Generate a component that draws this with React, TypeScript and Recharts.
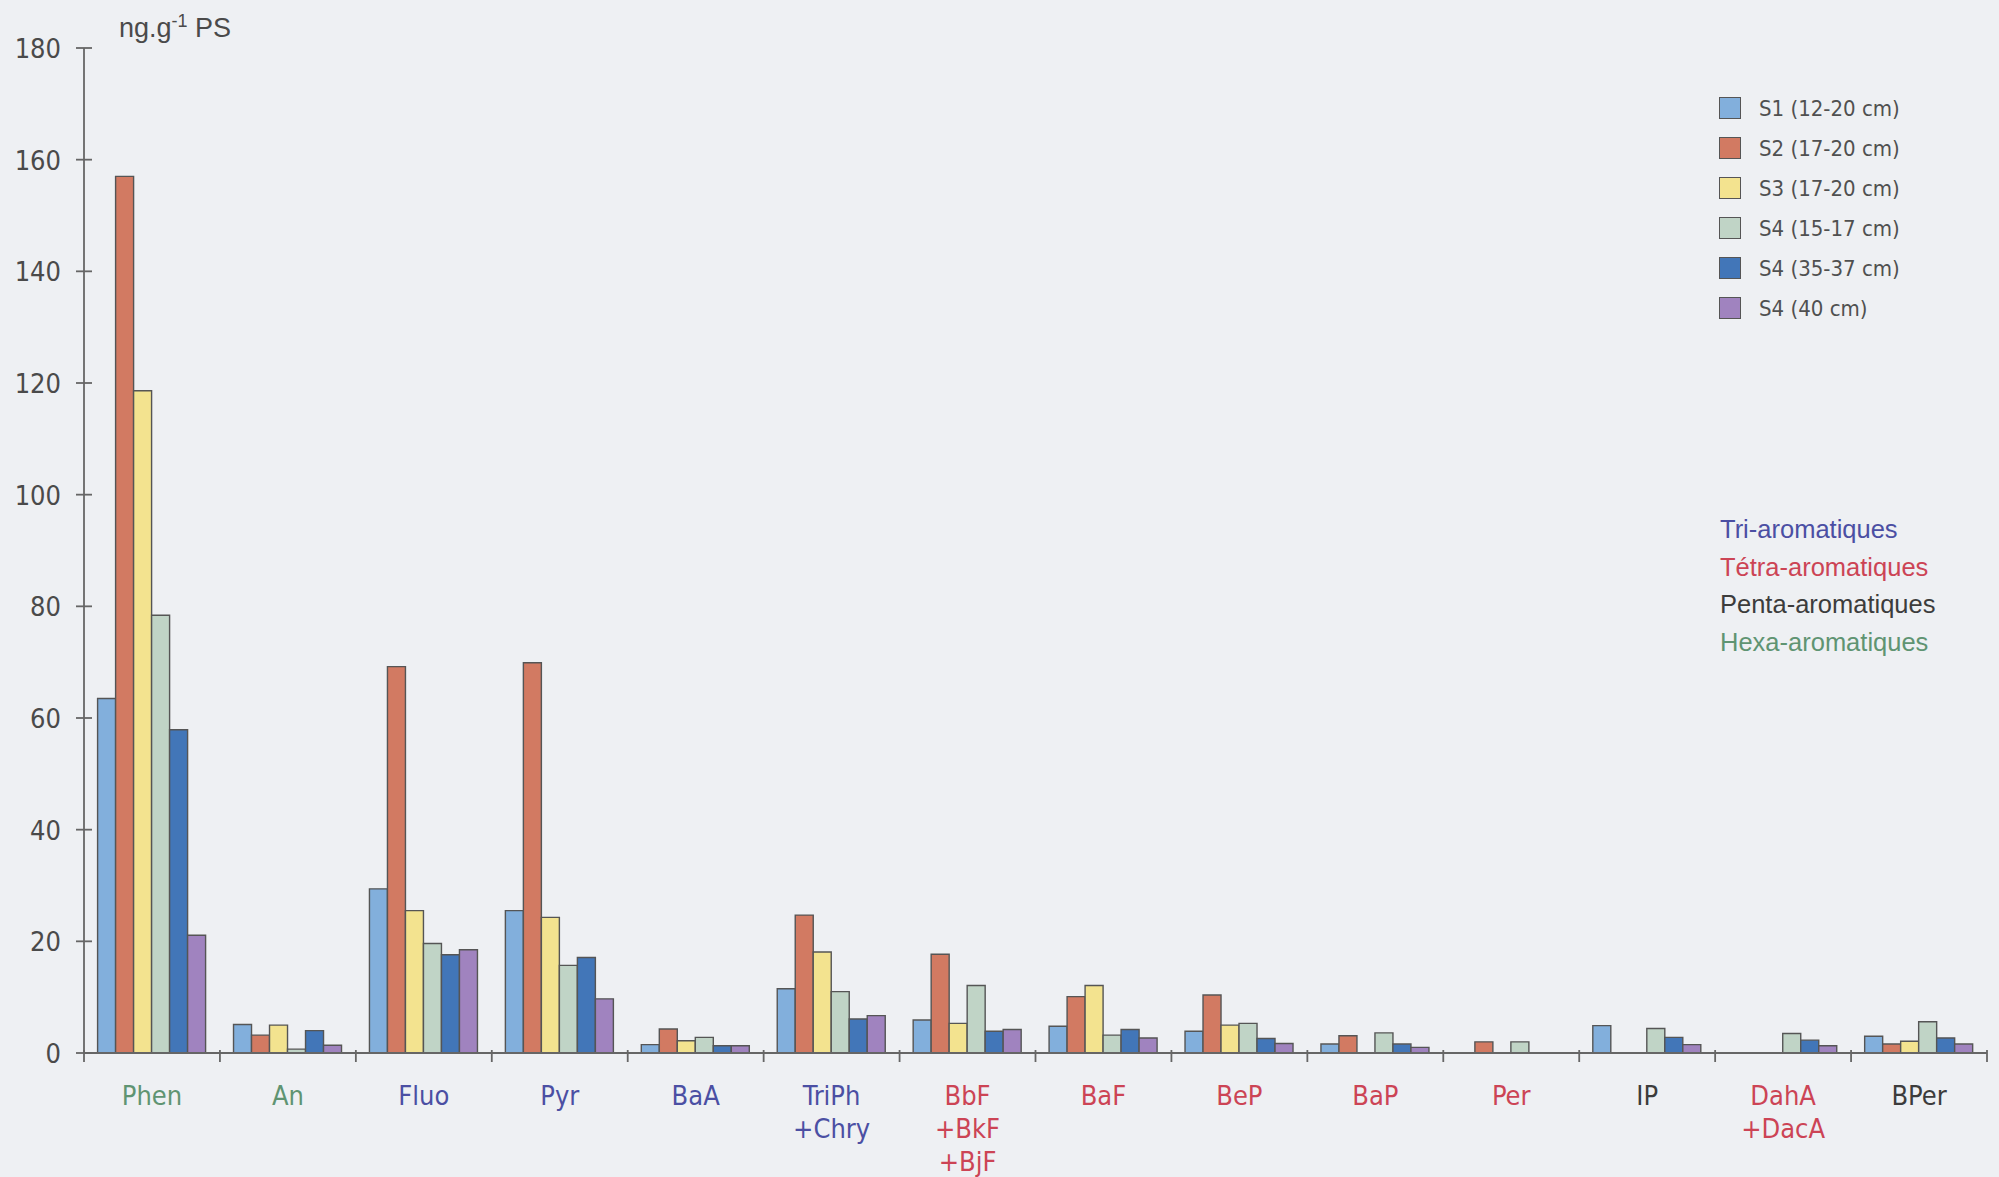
import { BarChart, Bar, XAxis, YAxis } from "recharts";

const categories = [
  "Phen", "An", "Fluo", "Pyr", "BaA", "TriPh\n+Chry", "BbF\n+BkF\n+BjF",
  "BaF", "BeP", "BaP", "Per", "IP", "DahA\n+DacA", "BPer",
];
// colour group used for each category label, as printed
const labelGroups = [
  "hexa", "hexa", "tri", "tri", "tri", "tri", "tetra",
  "tetra", "tetra", "tetra", "tetra", "penta", "tetra", "penta",
];

const s1 = [63.5, 5.1, 29.4, 25.5, 1.5, 11.5, 5.9, 4.8, 3.9, 1.6, null, 4.9, null, 3.0];
const s2 = [157, 3.2, 69.2, 69.9, 4.3, 24.7, 17.7, 10.1, 10.4, 3.1, 2.0, null, null, 1.6];
const s3 = [118.6, 5.0, 25.5, 24.3, 2.2, 18.1, 5.3, 12.1, 5.0, null, null, null, null, 2.1];
const s4a = [78.4, 0.7, 19.6, 15.7, 2.8, 11.0, 12.1, 3.2, 5.3, 3.6, 2.0, 4.4, 3.5, 5.6];
const s4b = [57.9, 4.0, 17.6, 17.1, 1.3, 6.1, 3.9, 4.2, 2.6, 1.6, null, 2.8, 2.3, 2.7];
const s4c = [21.1, 1.4, 18.5, 9.7, 1.3, 6.7, 4.2, 2.7, 1.7, 1.0, null, 1.5, 1.3, 1.6];

const seriesNames = [
  "S1 (12-20 cm)", "S2 (17-20 cm)", "S3 (17-20 cm)",
  "S4 (15-17 cm)", "S4 (35-37 cm)", "S4 (40 cm)",
];
const seriesKeys = ["s1", "s2", "s3", "s4a", "s4b", "s4c"];
const seriesColors = ["#82afdc", "#d27a62", "#f3e38f", "#c0d4c6", "#4276b8", "#a083bf"];

const yTicks = [0, 20, 40, 60, 80, 100, 120, 140, 160, 180];

const groupNames = ["Tri-aromatiques", "Tétra-aromatiques", "Penta-aromatiques", "Hexa-aromatiques"];
const groupKeys = ["tri", "tetra", "penta", "hexa"];
const groupColors: Record<string, string> = {
  tri: "#4b4fa3",
  tetra: "#cc4455",
  penta: "#3c3c3c",
  hexa: "#5f9472",
};

const data = categories.map((name, i) => ({
  name,
  s1: s1[i],
  s2: s2[i],
  s3: s3[i],
  s4a: s4a[i],
  s4b: s4b[i],
  s4c: s4c[i],
}));

const narrow = "'Liberation Sans Narrow', 'DejaVu Sans Condensed', 'Arial Narrow', sans-serif";
const regular = "'Liberation Sans', Arial, sans-serif";
const axisColor = "#666";

function YTick(props: any) {
  const { x, y, payload } = props;
  const ax = x + 23;
  return (
    <g>
      <line x1={ax - 8} x2={ax + 8} y1={y} y2={y} stroke={axisColor} strokeWidth={1.8} />
      <text x={x} y={y + 10} textAnchor="end" fontSize={27} fontFamily={narrow} fill="#4a4a4a">
        {payload.value}
      </text>
    </g>
  );
}

function XTick(props: any) {
  const { x, y, payload, index } = props;
  const half = payload.offset ?? 68;
  const lines = String(payload.value).split("\n");
  const color = groupColors[labelGroups[index]];
  return (
    <g>
      <line x1={x - half} x2={x - half} y1={y - 3} y2={y + 9} stroke={axisColor} strokeWidth={1.8} />
      {index === categories.length - 1 && (
        <line x1={x + half} x2={x + half} y1={y - 3} y2={y + 9} stroke={axisColor} strokeWidth={1.8} />
      )}
      {lines.map((ln, k) => (
        <text key={k} x={x} y={y + 52 + k * 33} textAnchor="middle" fontSize={27} fontFamily={narrow} fill={color}>
          {ln}
        </text>
      ))}
    </g>
  );
}

export default function App() {
  return (
    <div
      style={{
        position: "absolute",
        left: 0,
        top: 0,
        width: 1999,
        height: 1177,
        background: "#eef0f3",
        fontFamily: narrow,
        overflow: "hidden",
      }}
    >
      <BarChart
        width={1999}
        height={1177}
        data={data}
        margin={{ top: 48, right: 12, left: 0, bottom: 0 }}
        barCategoryGap="10%"
        barGap={0}
      >
        <XAxis
          dataKey="name"
          height={124}
          interval={0}
          tickSize={0}
          tickMargin={0}
          tickLine={false}
          stroke={axisColor}
          strokeWidth={1.8}
          tick={<XTick />}
        />
        <YAxis
          width={84}
          domain={[0, 180]}
          ticks={yTicks}
          interval={0}
          tickSize={0}
          tickMargin={23}
          tickLine={false}
          stroke={axisColor}
          strokeWidth={1.8}
          tick={<YTick />}
        />
        {seriesKeys.map((k, i) => (
          <Bar
            key={k}
            dataKey={k}
            name={seriesNames[i]}
            fill={seriesColors[i]}
            stroke="#555"
            strokeWidth={1.4}
            isAnimationActive={false}
          />
        ))}
      </BarChart>

      <div
        style={{
          position: "absolute",
          left: 119,
          top: 11,
          fontSize: 27,
          fontFamily: regular,
          color: "#4a4a4a",
          whiteSpace: "nowrap",
        }}
      >
        ng.g<sup style={{ fontSize: 18 }}>-1</sup> PS
      </div>

      <div style={{ position: "absolute", left: 1719, top: 88 }}>
        {seriesNames.map((n, i) => (
          <div key={n} style={{ display: "flex", alignItems: "center", height: 40 }}>
            <span
              style={{
                width: 20,
                height: 20,
                background: seriesColors[i],
                border: "1.5px solid #555",
                marginRight: 18,
              }}
            />
            <span style={{ fontSize: 22, fontFamily: narrow, color: "#505050" }}>{n}</span>
          </div>
        ))}
      </div>

      <div style={{ position: "absolute", left: 1720, top: 511 }}>
        {groupNames.map((n, i) => (
          <div
            key={n}
            style={{ fontSize: 25.5, lineHeight: "37.5px", fontFamily: regular, color: groupColors[groupKeys[i]] }}
          >
            {n}
          </div>
        ))}
      </div>
    </div>
  );
}
